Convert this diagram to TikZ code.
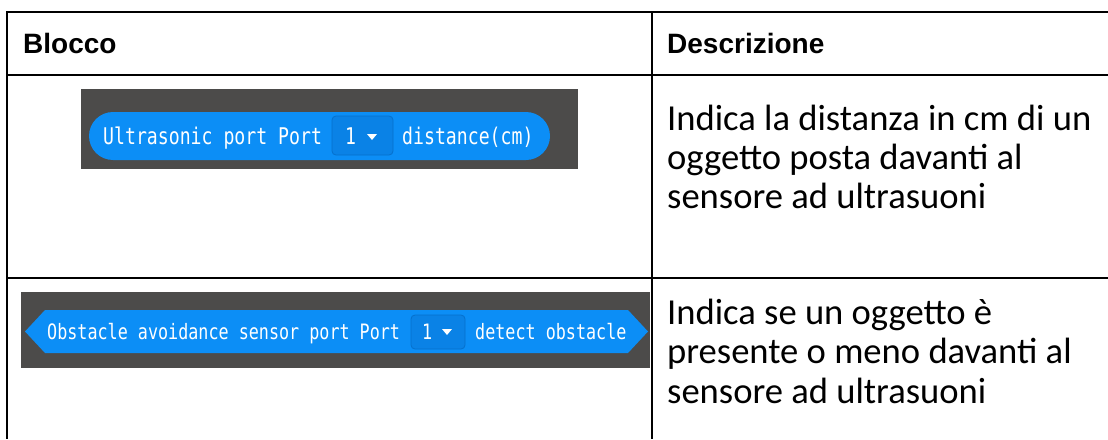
\documentclass[tikz,border=0pt]{standalone}
\usepackage{fontspec}
\usepackage{xcolor}
\newfontfamily\headfont{Liberation Sans}
\newfontfamily\descfont{Carlito}
\newfontfamily\blockfont[FakeStretch=0.79]{DejaVu Sans Mono}
\definecolor{sketchbg}{HTML}{4C4B4A}
\definecolor{blockblue}{HTML}{0C8EF6}
\definecolor{dropblue}{HTML}{0A82E6}
\definecolor{dropedge}{HTML}{0670CC}

\begin{document}
\begin{tikzpicture}[x=1pt, y=-1pt,
  rule/.style={line width=2pt, black},
  hdr/.style={inner sep=0pt, anchor=base west,
              font=\headfont\bfseries\fontsize{28}{32}\selectfont},
  desc/.style={inner sep=0pt, anchor=base west, align=left,
               font=\descfont\fontsize{36.6}{39.3}\selectfont},
  blocktext/.style={inner sep=0pt, anchor=base west, text=white,
                    font=\blockfont\fontsize{23}{23}\selectfont},
  smalltext/.style={blocktext, font=\blockfont\fontsize{21.2}{21.2}\selectfont},
  dropbox/.style={fill=dropblue, draw=dropedge, line width=0.8pt, rounded corners=4pt},
  caret/.style={fill=white},
]
  \useasboundingbox[fill=white] (0,0) rectangle (1108,439);

  %% Table rules
  \draw[rule] (7,12) -- (1108,12);
  \draw[rule] (7,75) -- (1108,75);
  \draw[rule] (7,278) -- (1108,278);
  \draw[rule] (7,11) -- (7,439);
  \draw[rule] (652,11) -- (652,439);

  %% Header row
  \node[hdr] (hdrblock) at (23,53) {Blocco};
  \node[hdr] (hdrdesc) at (667,53) {Descrizione};

  %% Block 1: ultrasonic distance reporter
  \fill[sketchbg] (81,89) rectangle (578,169);
  \fill[blockblue, rounded corners=24pt] (89,112) rectangle (550,160);
  \draw[dropbox] (332,116) rectangle (393,155);
  \node[blocktext] (txtultra) at (103,144) {Ultrasonic port Port};
  \node[blocktext] (numone) at (345,144) {1};
  \fill[caret] (367,134) -- (377,134) -- (372,140) -- cycle;
  \node[blocktext] (txtdist) at (402,144) {distance(cm)};

  %% descriptions (base = last line)
  \node[desc] (descdist) at (667,208.6)
    {Indica la distanza in cm di un\\oggetto posta davanti al\\sensore ad ultrasuoni};

  %% Block 2: obstacle avoidance boolean
  \fill[sketchbg] (21,292) rectangle (650,368);
  \fill[blockblue] (25,331.5) -- (45,310) -- (628,310) -- (648,331.5)
    -- (628,353) -- (45,353) -- cycle;
  \draw[dropbox] (411,315) rectangle (465,349);
  \node[smalltext] (txtobst) at (47,339) {Obstacle avoidance sensor port Port};
  \node[smalltext] (numtwo) at (422,339) {1};
  \fill[caret] (442,329) -- (452,329) -- (447,335) -- cycle;
  \node[smalltext] (txtdetect) at (475,339) {detect obstacle};

  \node[desc] (descobst) at (667,403)
    {Indica se un oggetto è\\presente o meno davanti al\\sensore ad ultrasuoni};
\end{tikzpicture}
\end{document}
